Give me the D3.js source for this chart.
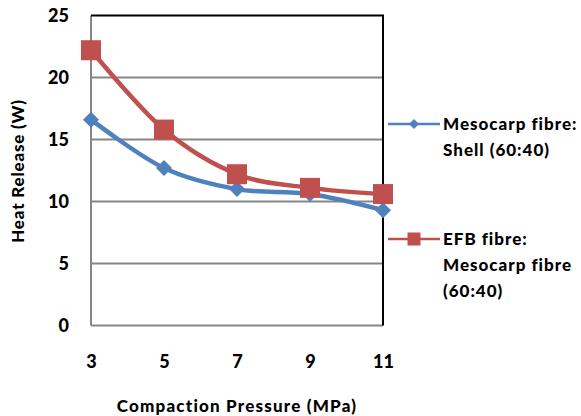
<!DOCTYPE html>
<html>
<head>
<meta charset="utf-8">
<script src="https://cdn.jsdelivr.net/npm/d3@7"></script>
<style>
  body { margin: 0; background: #fff; }
  text { font-family: Lato, "Open Sans", sans-serif; font-weight: 900; fill: #000; }
</style>
</head>
<body>
<svg id="chart" width="581" height="416"></svg>
<script>
// データ
var pressures = [3, 5, 7, 9, 11];
var mesocarpShell = [16.6, 12.7, 11.0, 10.6, 9.3];
var efbMesocarp = [22.2, 15.8, 12.2, 11.1, 10.6];
var yTicks = [0, 5, 10, 15, 20, 25];

var svg = d3.select("#chart");
var plotL = 91, plotR = 383, plotT = 15.5, plotB = 325.5;

var x = d3.scalePoint().domain(pressures).range([plotL, plotR]);
var y = d3.scaleLinear().domain([0, 25]).range([plotB, plotT]);

// グリッド線
svg.append("g").selectAll("line")
    .data(yTicks.slice(0, -1))
    .enter().append("line")
    .attr("x1", plotL).attr("x2", plotR)
    .attr("y1", function (d) { return y(d); })
    .attr("y2", function (d) { return y(d); })
    .attr("stroke", "#868686").attr("stroke-width", 2);

// 枠線 (左: 灰, 上と右: 黒)
svg.append("line").attr("x1", plotL).attr("x2", plotL).attr("y1", plotT).attr("y2", plotB)
    .attr("stroke", "#868686").attr("stroke-width", 2);
svg.append("path").attr("d", "M" + plotL + "," + plotT + "H" + plotR + "V" + plotB)
    .attr("fill", "none").attr("stroke", "#000").attr("stroke-width", 2);

// 軸ラベル
var yAxis = d3.axisLeft(y).tickValues(yTicks).tickSize(0).tickPadding(22);
svg.append("g").attr("transform", "translate(" + plotL + ",0)").call(yAxis)
    .call(function (g) { g.select(".domain").remove(); })
    .selectAll("text").style("font-size", "18px").attr("font-family", null);

var xAxis = d3.axisBottom(x).tickSize(0).tickPadding(30);
svg.append("g").attr("transform", "translate(0," + plotB + ")").call(xAxis)
    .call(function (g) { g.select(".domain").remove(); })
    .selectAll("text").style("font-size", "18px").attr("font-family", null);

svg.append("text").attr("x", (plotL + plotR) / 2).attr("y", 412)
    .attr("text-anchor", "middle").style("font-size", "17px").style("letter-spacing", "1.2px")
    .text("Compaction Pressure (MPa)");
svg.append("text").attr("transform", "translate(24,171) rotate(-90)")
    .attr("text-anchor", "middle").style("font-size", "17px").style("letter-spacing", "0.8px")
    .text("Heat Release (W)");

// 系列
var line = d3.line()
    .x(function (d, i) { return x(pressures[i]); })
    .y(function (d) { return y(d); })
    .curve(d3.curveCardinal.tension(0));

var series = [
    { name: ["Mesocarp fibre:", "Shell (60:40)"], values: mesocarpShell, color: "#4F81BD", shape: "diamond", ly: 124 },
    { name: ["EFB fibre:", "Mesocarp fibre", "(60:40)"], values: efbMesocarp, color: "#C0504D", shape: "square", ly: 239 }
];

function marker(g, shape, size) {
    if (shape == "square") {
        return g.append("rect").attr("x", -size / 2).attr("y", -size / 2)
            .attr("width", size).attr("height", size);
    }
    var s = size / 2;
    return g.append("path").attr("d", "M0," + (-s) + "L" + s + ",0L0," + s + "L" + (-s) + ",0Z");
}

series.forEach(function (s) {
    svg.append("path").datum(s.values).attr("d", line)
        .attr("fill", "none").attr("stroke", s.color).attr("stroke-width", 4.5);
    s.values.forEach(function (v, i) {
        var g = svg.append("g").attr("transform", "translate(" + x(pressures[i]) + "," + y(v) + ")");
        marker(g, s.shape, s.shape == "square" ? 20 : 16).attr("fill", s.color);
    });

    // 凡例
    svg.append("line").attr("x1", 388).attr("x2", 440).attr("y1", s.ly).attr("y2", s.ly)
        .attr("stroke", s.color).attr("stroke-width", 2.5);
    var lg = svg.append("g").attr("transform", "translate(414," + s.ly + ")");
    if (s.shape == "square") marker(lg, "square", 13).attr("fill", s.color);
    else marker(lg, "diamond", 10).attr("fill", s.color);
    s.name.forEach(function (t, j) {
        svg.append("text").attr("x", 443).attr("y", s.ly + 6 + j * 26)
            .style("font-size", "17px").style("letter-spacing", "1px").text(t);
    });
});
</script>
</body>
</html>
